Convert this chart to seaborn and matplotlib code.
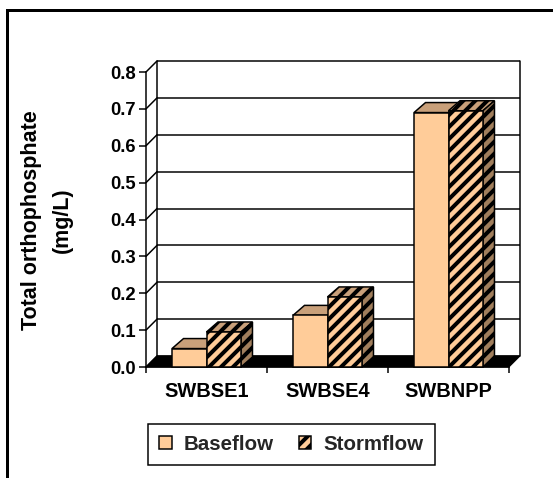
import numpy as np
import pandas as pd
import matplotlib
matplotlib.use("Agg")
import matplotlib.pyplot as plt
import seaborn as sns
from matplotlib.patches import Polygon, Rectangle

# ---- data ----
sites = ["SWBSE1", "SWBSE4", "SWBNPP"]
series = ["Baseflow", "Stormflow"]
baseflow = [0.05, 0.14, 0.69]
stormflow = [0.095, 0.19, 0.695]
yticks = [0.0, 0.1, 0.2, 0.3, 0.4, 0.5, 0.6, 0.7, 0.8]
ylabel = "Total orthophosphate\n(mg/L)"

PEACH = "#FFCC99"
TOP = "#C9A07A"
SIDE = "#A07E5C"

sns.set_theme(style="white")
plt.rcParams["font.family"] = ["Liberation Sans", "DejaVu Sans"]
plt.rcParams["font.weight"] = "bold"
plt.rcParams["hatch.linewidth"] = 4.0
plt.rcParams["hatch.color"] = "black"

W, H, DPI = 553, 478, 72
fig = plt.figure(figsize=(W / DPI, H / DPI), dpi=DPI)
fig.patch.set_facecolor("white")
# axes: front plane, x from px 146 to 509, y from px 367 (0.0) to 72 (0.8)
ax = fig.add_axes([146 / W, (H - 367) / H, 363 / W, 295 / H])
ax.set_facecolor("none")

df = pd.DataFrame({
    "site": sites * 2,
    "value": baseflow + stormflow,
    "flow": [series[0]] * len(sites) + [series[1]] * len(sites),
})
sns.barplot(data=df, x="site", y="value", hue="flow", order=sites,
            hue_order=series, palette=[PEACH, PEACH], width=0.57, gap=0,
            saturation=1, errorbar=None, edgecolor="black", linewidth=1.5,
            legend=False, ax=ax)

ax.set_xlim(-0.5, len(sites) - 0.5)
ax.set_ylim(0, 0.8)
x0, x1 = ax.get_xlim()

# depth offsets (data units)
dx = 11 * (x1 - x0) / 363
dy = 11 * 0.8 / 295
bdx = 11.5 * (x1 - x0) / 363
bdy = 10 * 0.8 / 295

# back wall gridlines and side-wall diagonals
for t in yticks:
    ax.plot([x0 + dx, x1 + dx], [t + dy, t + dy], color="black", lw=1.5,
            zorder=1, clip_on=False, solid_capstyle="butt")
    ax.plot([x0, x0 + dx], [t, t + dy], color="black", lw=1.5, zorder=1,
            clip_on=False)
ax.plot([x0 + dx, x0 + dx], [dy, 0.8 + dy], color="black", lw=1.5, zorder=1,
        clip_on=False)
ax.plot([x1 + dx, x1 + dx], [dy, 0.8 + dy], color="black", lw=1.5, zorder=1,
        clip_on=False)
# floor
ax.add_patch(Polygon([(x0, 0), (x1, 0), (x1 + dx, dy), (x0 + dx, dy)],
                     closed=True, facecolor="black", edgecolor="black",
                     lw=1, zorder=1.5, clip_on=False))

# 3D faces for bars
for ci, cont in enumerate(ax.containers):
    hatch = "//" if ci == 1 else None
    for p in cont:
        x, w, h = p.get_x(), p.get_width(), p.get_height()
        p.set_zorder(3 + 1.5 * ci)
        p.set_clip_on(False)
        if hatch:
            p.set_hatch(hatch)
            p.set_hatch_linewidth(4.0)
        top = Polygon([(x, h), (x + w, h), (x + w + bdx, h + bdy), (x + bdx, h + bdy)],
                      closed=True, facecolor=TOP, edgecolor="black", lw=1.5,
                      hatch=hatch, zorder=2.5 + 1.5 * ci, clip_on=False)
        side = Polygon([(x + w, 0), (x + w + bdx, bdy), (x + w + bdx, h + bdy), (x + w, h)],
                       closed=True, facecolor=SIDE, edgecolor="black", lw=1.5,
                       hatch=hatch, zorder=2.5 + 1.5 * ci, clip_on=False)
        ax.add_patch(top)
        ax.add_patch(side)

# axes styling
for s in ["top", "right"]:
    ax.spines[s].set_visible(False)
ax.spines["left"].set_color("black")
ax.spines["left"].set_linewidth(1.5)
ax.spines["left"].set_bounds(0, 0.8)
ax.spines["bottom"].set_color("black")
ax.spines["bottom"].set_linewidth(1.5)
ax.spines["left"].set_zorder(6)

ax.set_yticks(yticks)
ax.set_yticklabels([f"{t:.1f}" for t in yticks])
ax.tick_params(axis="y", which="major", direction="out", length=7, width=1.5,
               color="black", pad=3, labelsize=18.5, labelcolor="black", left=True)
ax.set_xticks(range(len(sites)))
ax.set_xticklabels(sites)
ax.set_xticks(np.arange(x0, x1 + 0.01, 1.0), minor=True)
ax.tick_params(axis="x", which="major", length=0, pad=15, labelsize=20,
               labelcolor="black")
ax.tick_params(axis="x", which="minor", direction="out", length=6, width=1.5,
               color="black", bottom=True)
ax.set_xlabel("")
ax.set_ylabel("")

fig.text(47 / W, 1 - 220 / H, ylabel, rotation=90, ha="center", va="center",
         multialignment="center", linespacing=1.65, fontsize=21.5,
         fontweight="bold", color="black")

leg = fig.legend(handles=[ax.containers[0][0], ax.containers[1][0]],
                 labels=series, loc="center",
                 bbox_to_anchor=(291.5 / W, 1 - 444.5 / H), ncol=2,
                 fontsize=20.5, frameon=True, fancybox=False, framealpha=1,
                 edgecolor="black", handlelength=0.6, handleheight=0.6,
                 handletextpad=0.6, columnspacing=1.2, borderpad=0.55)
leg.get_frame().set_linewidth(1.5)

# outer chart frame (extends past right and bottom edges)
fig.add_artist(Rectangle((7 / W, -0.1), 1.2, 1 - 10 / H + 0.1,
                         transform=fig.transFigure, fill=False,
                         edgecolor="black", lw=3, clip_on=False))

fig.savefig("out.png", dpi=DPI, facecolor="white")
